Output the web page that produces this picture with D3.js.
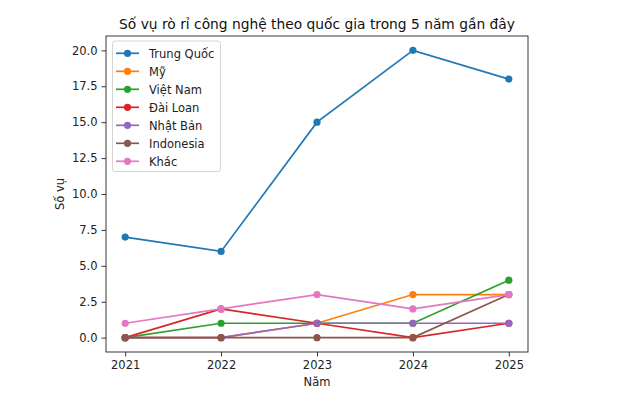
<!DOCTYPE html>
<html><head><meta charset="utf-8">
<script src="https://cdn.jsdelivr.net/npm/d3@7"></script>
<style>body{margin:0;background:#fff}svg{font-family:"DejaVu Sans",sans-serif}</style>
</head><body><svg id="c" width="640" height="398"></svg>
<script>
const years = [2021, 2022, 2023, 2024, 2025];
const seriesNames = ["Trung Quốc", "Mỹ", "Việt Nam", "Đài Loan", "Nhật Bản", "Indonesia", "Khác"];
const trungQuoc = [7, 6, 15, 20, 18];
const my = [0, 0, 1, 3, 3];
const vietNam = [0, 1, 1, 1, 4];
const daiLoan = [0, 2, 1, 0, 1];
const nhatBan = [0, 0, 1, 1, 1];
const indonesia = [0, 0, 0, 0, 3];
const khac = [1, 2, 3, 2, 3];
const yTicks = [0, 2.5, 5, 7.5, 10, 12.5, 15, 17.5, 20];
const colors = ["#1f77b4", "#ff7f0e", "#2ca02c", "#d62728", "#9467bd", "#8c564b", "#e377c2"];
const allValues = [trungQuoc, my, vietNam, daiLoan, nhatBan, indonesia, khac];

const L = 106, R = 528, T = 36, B = 352;
const svg = d3.select("#c");
const x = d3.scaleLinear().domain([2020.8, 2025.2]).range([L, R]);
const y = d3.scaleLinear().domain([-1, 21]).range([B, T]);

// axes
const xa = svg.append("g").attr("transform", `translate(0,${B})`)
  .call(d3.axisBottom(x).tickValues(years).tickFormat(d3.format("d")).tickSizeOuter(0).tickSize(4.5).tickPadding(4));
const ya = svg.append("g").attr("transform", `translate(${L},0)`)
  .call(d3.axisLeft(y).tickValues(yTicks).tickFormat(d3.format(".1f")).tickSizeOuter(0).tickSize(4.5).tickPadding(4));
[xa, ya].forEach(a => {
  a.select(".domain").remove();
  a.selectAll("text").attr("font-size", 11.5).attr("fill", "#222").attr("font-family", "DejaVu Sans");
  a.selectAll("line").attr("stroke", "#222").attr("stroke-width", 0.9);
});
svg.append("rect").attr("x", L).attr("y", T).attr("width", R - L).attr("height", B - T)
  .attr("fill", "none").attr("stroke", "#222").attr("stroke-width", 0.9);

// lines
const line = d3.line().x((d, i) => x(years[i])).y(d => y(d));
allValues.forEach((vals, k) => {
  svg.append("path").attr("d", line(vals)).attr("fill", "none")
    .attr("stroke", colors[k]).attr("stroke-width", 1.7);
  svg.append("g").selectAll("circle").data(vals).join("circle")
    .attr("cx", (d, i) => x(years[i])).attr("cy", d => y(d)).attr("r", 3.6)
    .attr("fill", colors[k]);
});

// title and labels
svg.append("text").attr("x", (L + R) / 2).attr("y", 29).attr("text-anchor", "middle")
  .attr("font-size", 13.8).attr("fill", "#111").text("Số vụ rò rỉ công nghệ theo quốc gia trong 5 năm gần đây");
svg.append("text").attr("x", (L + R) / 2).attr("y", 386).attr("text-anchor", "middle")
  .attr("font-size", 11.5).attr("fill", "#222").text("Năm");
svg.append("text").attr("transform", `translate(64,${(T + B) / 2}) rotate(-90)`).attr("text-anchor", "middle")
  .attr("font-size", 11.5).attr("fill", "#222").text("Số vụ");

// legend
const lg = svg.append("g");
lg.append("rect").attr("x", 112.5).attr("y", 41).attr("width", 108).attr("height", 130.5).attr("rx", 2.5)
  .attr("fill", "#fff").attr("fill-opacity", 0.8).attr("stroke", "#d0d0d0").attr("stroke-width", 0.9);
seriesNames.forEach((n, k) => {
  const yy = 53.3 + k * 18;
  lg.append("line").attr("x1", 116).attr("x2", 139).attr("y1", yy).attr("y2", yy)
    .attr("stroke", colors[k]).attr("stroke-width", 1.7);
  lg.append("circle").attr("cx", 127.5).attr("cy", yy).attr("r", 3.6).attr("fill", colors[k]);
  lg.append("text").attr("x", 149).attr("y", yy + 4.2).attr("font-size", 11.5).attr("fill", "#222").text(n);
});
</script></body></html>
